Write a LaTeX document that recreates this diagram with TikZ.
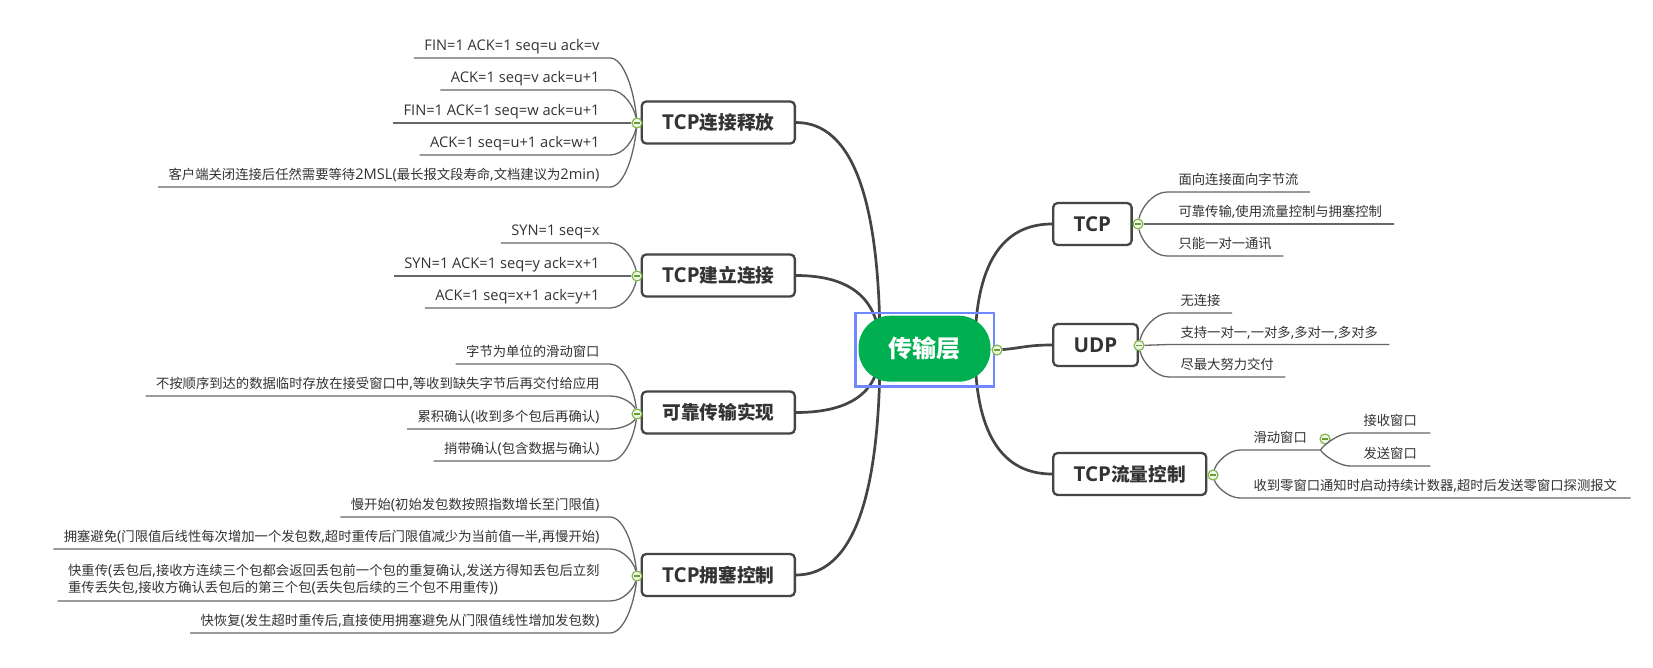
\documentclass[tikz,border=0pt]{standalone}
\usepackage{fontspec}
\setmainfont{Open Sans}[Scale=1.1]
\newfontfamily\latinfont{Open Sans}[Scale=1.1]
\newfontfamily\cjkfont{Noto Sans CJK SC}
\XeTeXinterchartokenstate=1
\newXeTeXintercharclass\cjkclass
\count255="4E00
\loop
  \XeTeXcharclass\count255=\cjkclass
  \advance\count255 by 1
\ifnum\count255<"A000 \repeat
\XeTeXinterchartoks 0 \cjkclass={\cjkfont}
\XeTeXinterchartoks 4095 \cjkclass={\cjkfont}
\XeTeXinterchartoks \cjkclass 0={\latinfont}
\definecolor{trunkgray}{HTML}{444444}
\definecolor{twiggray}{HTML}{666666}
\definecolor{boxgray}{HTML}{454545}
\definecolor{titlegray}{HTML}{333333}
\definecolor{leafgray}{HTML}{333333}
\definecolor{hubgreen}{HTML}{00B050}
\definecolor{selblue}{HTML}{7087FF}
\definecolor{foldgreen}{HTML}{7CB342}
\definecolor{foldfill}{HTML}{EEF6E6}
\definecolor{foldminus}{HTML}{6A9E3A}
\begin{document}
\begin{tikzpicture}[x=1pt, y=-1pt, line width=1pt,
  trunk/.style={draw=trunkgray, line width=2.7pt},
  twig/.style={draw=twiggray, line width=1.3pt},
  topic/.style={draw=boxgray, line width=2.3pt, rounded corners=4.5pt, fill=white, minimum height=42pt, inner xsep=20.5pt, text=titlegray, font=\fontsize{18.67}{22}\selectfont\bfseries},
  pill/.style={fill=hubgreen, rounded corners=32pt, minimum width=132pt, minimum height=66pt, text=white, font=\fontsize{24}{28}\selectfont\bfseries},
  leafl/.style={anchor=south east, inner xsep=10pt, inner ysep=4pt, text height=11pt, text depth=3pt, text=leafgray, font=\fontsize{13.33}{16.7}\selectfont},
  leafr/.style={leafl, anchor=south west, inner xsep=11pt},
  fold/.style={circle, draw=foldgreen, fill=foldfill, line width=1.1pt, minimum size=10pt, inner sep=0pt, path picture={\draw[foldminus, line width=1.4pt] ([xshift=-2.6pt]path picture bounding box.center) -- ([xshift=2.6pt]path picture bounding box.center);}}]
  \path[use as bounding box, fill=white] (0,0) rectangle (1653,668);
  \node[topic, anchor=east] (fin) at (796,122.5) {TCP连接释放};
  \node[topic, anchor=east] (syn) at (796,275.5) {TCP建立连接};
  \node[topic, anchor=east] (rdt) at (796,412.5) {可靠传输实现};
  \node[topic, anchor=east] (cong) at (796,575) {TCP拥塞控制};
  \node[topic, anchor=west] (tcp) at (1052,224) {TCP};
  \node[topic, anchor=west] (udp) at (1052,345) {UDP};
  \node[topic, anchor=west] (flow) at (1052,474) {TCP流量控制};
  \coordinate (hubl) at (880,349);
  \coordinate (hubr) at (975,349);
  \draw[trunk] (fin.east) .. controls +(56,0) and +(0,-151) .. (hubl);
  \draw[trunk] (syn.east) .. controls +(56,0) and +(0,-49) .. (hubl);
  \draw[trunk] (rdt.east) .. controls +(56,0) and +(0,42) .. (hubl);
  \draw[trunk] (cong.east) .. controls +(56,0) and +(0,151) .. (hubl);
  \draw[trunk] (tcp.west) .. controls +(-51,0) and +(0,-83) .. (hubr);
  \draw[trunk] (flow.west) .. controls +(-51,0) and +(0,83) .. (hubr);
  \node[pill] (ctr) at (924.5,348.7) {传输层};
  \draw[selblue, line width=2.2pt] ([shift={(-2.5,-2.5)}]ctr.north west) rectangle ([shift={(2.8,4.2)}]ctr.south east);
  \node[fold] (ctrf) at (997,350) {};
  \draw[trunk] (ctrf) .. controls +(25,-2) and +(-25,0) .. (udp.west);
  \node[fold] (finf) at (637,123) {};
  \node[fold] (synf) at (637,276) {};
  \node[fold] (rdtf) at (637,414) {};
  \node[fold] (congf) at (637,576) {};
  \node[fold] (tcpf) at (1138,224) {};
  \node[fold] (udpf) at (1139,345.5) {};
  \node[fold] (flowf) at (1213,475) {};
  \node[fold] (swinf) at (1325,439) {};
  \node[leafl] (f1) at (610,58) {FIN=1 ACK=1 seq=u ack=v};
  \node[leafl] (f2) at (610,90) {ACK=1 seq=v ack=u+1};
  \node[leafl] (f3) at (610,123) {FIN=1 ACK=1 seq=w ack=u+1};
  \node[leafl] (f4) at (610,155) {ACK=1 seq=u+1 ack=w+1};
  \node[leafl] (f5) at (610,187) {客户端关闭连接后任然需要等待2MSL(最长报文段寿命,文档建议为2min)};
  \node[leafl] (s1) at (610,243) {SYN=1 seq=x};
  \node[leafl] (s2) at (610,276) {SYN=1 ACK=1 seq=y ack=x+1};
  \node[leafl] (s3) at (610,308) {ACK=1 seq=x+1 ack=y+1};
  \node[leafl] (r1) at (610,364) {字节为单位的滑动窗口};
  \node[leafl] (r2) at (610,396) {不按顺序到达的数据临时存放在接受窗口中,等收到缺失字节后再交付给应用};
  \node[leafl] (r3) at (610,429) {累积确认(收到多个包后再确认)};
  \node[leafl] (r4) at (610,461) {捎带确认(包含数据与确认)};
  \node[leafl] (c1) at (610,517) {慢开始(初始发包数按照指数增长至门限值)};
  \node[leafl] (c2) at (610,549) {拥塞避免(门限值后线性每次增加一个发包数,超时重传后门限值减少为当前值一半,再慢开始)};
  \node[leafl, align=left, text height={}, text depth={}, inner ysep=6pt] (c3) at (610,601) {快重传(丢包后,接收方连续三个包都会返回丢包前一个包的重复确认,发送方得知丢包后立刻\\重传丢失包,接收方确认丢包后的第三个包(丢失包后续的三个包不用重传))};
  \node[leafl] (c4) at (610,633) {快恢复(发生超时重传后,直接使用拥塞避免从门限值线性增加发包数)};
  \node[leafr] (t1) at (1167,192) {面向连接面向字节流};
  \node[leafr] (t2) at (1167,224) {可靠传输,使用流量控制与拥塞控制};
  \node[leafr] (t3) at (1167,256) {只能一对一通讯};
  \node[leafr] (u1) at (1169,313) {无连接};
  \node[leafr] (u2) at (1169,344.5) {支持一对一,一对多,多对一,多对多};
  \node[leafr] (u3) at (1169,377) {尽最大努力交付};
  \node[leafr, inner xsep=13pt] (swin) at (1240,450) {滑动窗口\hspace{9pt}};
  \node[leafr, inner xsep=13pt] (zwin) at (1240,498) {收到零窗口通知时启动持续计数器,超时后发送零窗口探测报文};
  \node[leafr, inner xsep=13pt] (w1) at (1350,433) {接收窗口};
  \node[leafr, inner xsep=13pt] (w2) at (1350,466) {发送窗口};
  \draw[twig] (finf) .. controls +(-3,-32) and +(14,0) .. (f1.south east) -- (f1.south west);
  \draw[twig] (finf) .. controls +(-3,-16) and +(14,0) .. (f2.south east) -- (f2.south west);
  \draw[twig] (finf) -- (f3.south east) -- (f3.south west);
  \draw[twig] (finf) .. controls +(-3,16) and +(14,0) .. (f4.south east) -- (f4.south west);
  \draw[twig] (finf) .. controls +(-3,32) and +(14,0) .. (f5.south east) -- (f5.south west);
  \draw[twig] (synf) .. controls +(-3,-16) and +(14,0) .. (s1.south east) -- (s1.south west);
  \draw[twig] (synf) -- (s2.south east) -- (s2.south west);
  \draw[twig] (synf) .. controls +(-3,16) and +(14,0) .. (s3.south east) -- (s3.south west);
  \draw[twig] (rdtf) .. controls +(-3,-25) and +(14,0) .. (r1.south east) -- (r1.south west);
  \draw[twig] (rdtf) .. controls +(-3,-9) and +(14,0) .. (r2.south east) -- (r2.south west);
  \draw[twig] (rdtf) .. controls +(-3,8) and +(14,0) .. (r3.south east) -- (r3.south west);
  \draw[twig] (rdtf) .. controls +(-3,23) and +(14,0) .. (r4.south east) -- (r4.south west);
  \draw[twig] (congf) .. controls +(-3,-29) and +(14,0) .. (c1.south east) -- (c1.south west);
  \draw[twig] (congf) .. controls +(-3,-13) and +(14,0) .. (c2.south east) -- (c2.south west);
  \draw[twig] (congf) .. controls +(-3,12) and +(14,0) .. (c3.south east) -- (c3.south west);
  \draw[twig] (congf) .. controls +(-3,28) and +(14,0) .. (c4.south east) -- (c4.south west);
  \draw[twig] (tcpf) .. controls +(3,-16) and +(-14,0) .. (t1.south west) -- (t1.south east);
  \draw[twig] (tcpf) -- (t2.south west) -- (t2.south east);
  \draw[twig] (tcpf) .. controls +(3,16) and +(-14,0) .. (t3.south west) -- (t3.south east);
  \draw[twig] (udpf) .. controls +(3,-16) and +(-14,0) .. (u1.south west) -- (u1.south east);
  \draw[twig] (udpf) -- (u2.south west) -- (u2.south east);
  \draw[twig] (udpf) .. controls +(3,16) and +(-14,0) .. (u3.south west) -- (u3.south east);
  \draw[twig] (flowf) .. controls +(3,-12) and +(-12,0) .. (swin.south west) -- (swin.south east);
  \draw[twig] (flowf) .. controls +(3,11) and +(-12,0) .. (zwin.south west) -- (zwin.south east);
  \draw[twig] (swin.south east) .. controls +(6,-8) and +(-9,0) .. (w1.south west) -- (w1.south east);
  \draw[twig] (swin.south east) .. controls +(6,8) and +(-9,0) .. (w2.south west) -- (w2.south east);
\end{tikzpicture}
\end{document}
